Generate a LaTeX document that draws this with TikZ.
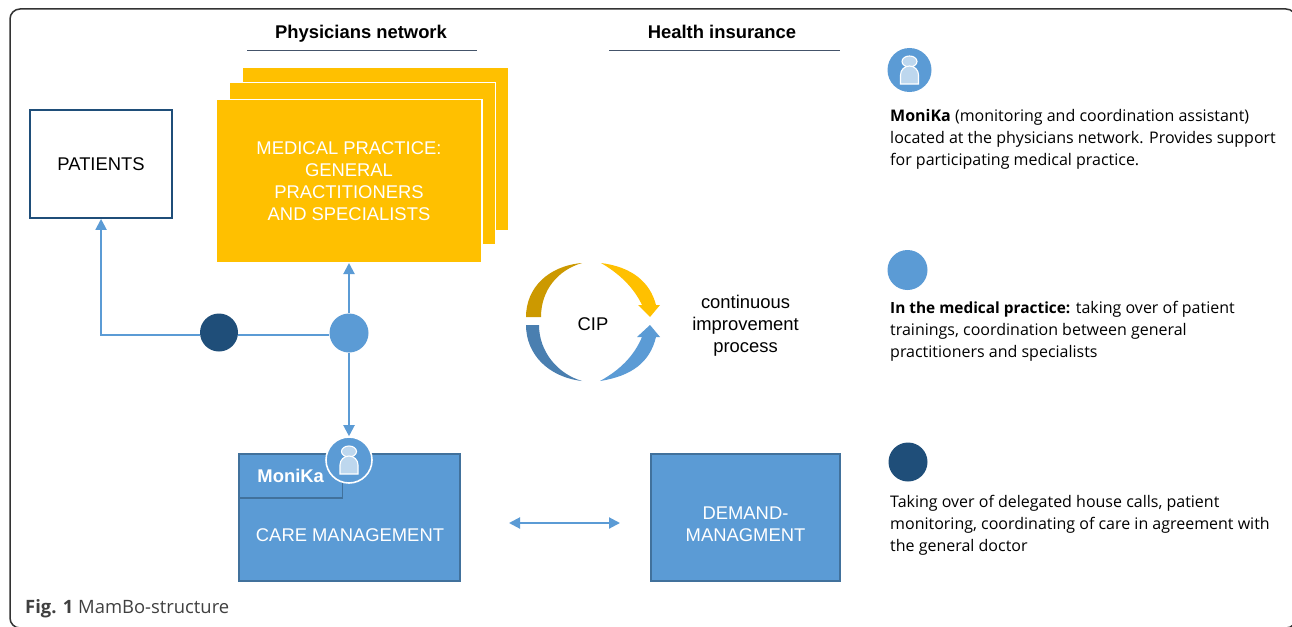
\documentclass[tikz,border=0pt]{standalone}
\usepackage{fontspec}
\setmainfont{Liberation Sans}
\newfontfamily\bodyfont{Open Sans}
\usetikzlibrary{arrows.meta,calc}
\definecolor{mblue}{HTML}{5B9BD5}
\definecolor{mdark}{HTML}{1F4E79}
\definecolor{myel}{HTML}{FFC000}
\definecolor{medge}{HTML}{41719C}
\definecolor{mhead}{HTML}{44546A}
\definecolor{mlight}{HTML}{BDD7EE}
\definecolor{myeld}{HTML}{CC9900}
\definecolor{mbluearc}{HTML}{4A7FB0}
\definecolor{mcap}{HTML}{404040}
\newcommand{\lab}{\fontsize{18.4}{22}\selectfont}
\tikzset{
 paper/.style={x=1pt,y=-1pt},
 yelbox/.style={fill=myel,draw=white,line width=1.2pt,anchor=north west,inner sep=0pt},
 bluebox/.style={fill=mblue,draw=medge,line width=1.5pt,anchor=north west,inner sep=0pt,text=white,font=\lab,align=center},
 conn/.style={draw=mblue,line width=2pt,-{Triangle[length=11pt,width=11pt]}},
 connplain/.style={draw=mblue,line width=2pt},
 dot/.style={circle,inner sep=0pt,minimum size=#1},
 headline/.style={draw=mhead,line width=0.8pt},
 headtext/.style={font=\bfseries\lab,anchor=base,inner sep=0pt},
 bodytext/.style={font=\bodyfont\fontsize{16}{22}\selectfont,anchor=north west,align=left,inner sep=0pt},
}
\newcommand{\personicon}[2]{%
 \begin{scope}[shift={(#1,#2)}]
  \fill[mlight,draw=white,line width=1.1pt] (0,-8.5) ellipse (7.5 and 5.5);
  \fill[mlight,draw=white,line width=1.1pt] (-9,14) -- (-9,5) arc[start angle=180,end angle=360,x radius=9,y radius=9] -- (9,14) -- cycle;
 \end{scope}}
\begin{document}
\begin{tikzpicture}[paper]
\useasboundingbox (0,0) rectangle (1292,626);
\begin{scope}
\clip (0,0) rectangle (1292,626);
\fill[white] (0,0) rectangle (1292,626);
\draw[black!80,line width=1.5pt,rounded corners=10pt] (10,9) rectangle (1296,628);
\end{scope}

% headers
\node[headtext] (hphys) at (361,38) {Physicians network};
\node[headtext] (hins) at (722,38) {Health insurance};
\draw[headline] (247,50.5) -- (477,50.5);
\draw[headline] (609,50.5) -- (840,50.5);

% practice stack
\node[yelbox,minimum width=266pt,minimum height=163pt] (back) at (241.9,66.8) {};
\node[yelbox,minimum width=266pt,minimum height=162pt] (mid) at (228.9,81.8) {};
\node[yelbox,minimum width=265.5pt,minimum height=163pt] (front) at (215.9,98.8) {};
\node[text=white,font=\lab,align=center,anchor=center] (fronttext) at (349,181) {MEDICAL PRACTICE:\\GENERAL\\PRACTITIONERS\\AND SPECIALISTS};

% patients
\node[draw=mdark,line width=1.7pt,fill=white,anchor=north west,minimum width=142pt,minimum height=108pt,inner sep=0pt,font=\lab] (patients) at (29.2,109.2) {PATIENTS};

% bottom boxes
\node[bluebox,minimum width=221pt,minimum height=127pt] (care) at (238.2,453.2) {};
\node[text=white,font=\lab,anchor=center] (caretext) at (350,535) {CARE MANAGEMENT};
\node[bluebox,minimum width=103.5pt,minimum height=44pt,font=\bfseries\lab] (moni) at (238.2,453.2) {MoniKa};
\node[bluebox,minimum width=189pt,minimum height=127pt] (demand) at (650.2,453.2) {};
\node[text=white,font=\lab,align=center,anchor=center] (demandtext) at (745.5,524.5) {DEMAND-\\MANAGMENT};

% dots
\node[dot=39pt,fill=mblue] (mdot) at (349,333) {};
\node[dot=38pt,fill=mdark] (ddot) at (219,332.5) {};
\node[dot=46pt,fill=mblue,draw=white,line width=1.6pt] (mica) at (349,460) {};
\personicon{349}{460}

% connectors
\draw[connplain] (mdot.west|-0,335) -- (ddot.east|-0,335);
\draw[conn] (ddot.west|-0,335) -| (patients.south);
\draw[conn] (mdot.north) -- (mdot.north|-front.south);
\draw[conn] (mdot.south) -- (mica.north);
\coordinate (dleft) at (509,523);
\coordinate (dright) at (620,523);
\draw[conn,{Triangle[length=11pt,width=11pt]}-{Triangle[length=11pt,width=11pt]}] (dleft) -- (dright);

% CIP
\fill[myeld] (526,317) .. controls (526,288) and (548,266) .. (582,263) .. controls (558,270) and (541,290) .. (541,317) -- cycle;
\fill[mbluearc] (526,325) .. controls (526,354) and (548,377) .. (582,381) .. controls (558,374) and (539,352) .. (539,325) -- cycle;
\fill[myel] (601,263) .. controls (632,267) and (650,282) .. (656,305) -- (660,305) -- (650,317) -- (638,305) -- (642,305) .. controls (634,288) and (620,274) .. (601,263) -- cycle;
\fill[mblue] (600,381) .. controls (632,376) and (650,362) .. (656,337) -- (660,337) -- (650,325) -- (637,337) -- (642,337) .. controls (634,356) and (620,370) .. (600,381) -- cycle;
\node[font=\lab] (cip) at (593,324) {CIP};
\node[font=\lab,align=center] (cipt) at (745.5,326) {continuous\\improvement\\process};

% legend
\node[dot=44pt,fill=mblue] (leg1) at (909.5,70) {};
\personicon{909.5}{70}
\node[bodytext] (t1) at (890,109) {\textbf{MoniKa} (monitoring and coordination assistant)\\located at the physicians network. Provides support\\for participating medical practice.};
\node[dot=40pt,fill=mblue] (leg2) at (907.5,270) {};
\node[bodytext] (t2) at (890,301) {{\fontsize{15.4}{22}\selectfont\textbf{In the medical practice:}} taking over of patient\\trainings, coordination between general\\practitioners and specialists};
\node[dot=39pt,fill=mdark] (leg3) at (908,462) {};
\node[bodytext] (t3) at (890,495) {Taking over of delegated house calls, patient\\monitoring, coordinating of care in agreement with\\the general doctor};
\node[font=\bodyfont\fontsize{18.4}{22}\selectfont,text=mcap,anchor=west,inner sep=0pt] (cap) at (25,608.5) {\textbf{Fig. 1} MamBo-structure};
\end{tikzpicture}
\end{document}
